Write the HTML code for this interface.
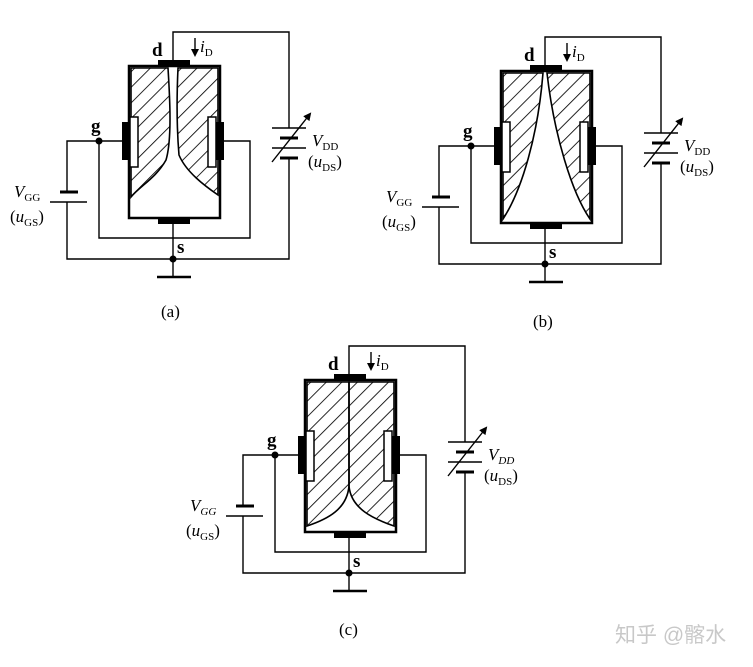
<!DOCTYPE html>
<html><head><meta charset="utf-8"><style>
html,body{margin:0;padding:0;background:#fff;}
svg{display:block;}
text{font-family:"Liberation Serif",serif;fill:#000;}
</style></head><body>
<svg width="753" height="667" viewBox="0 0 753 667" xmlns="http://www.w3.org/2000/svg">
<defs>
<pattern id="h" patternUnits="userSpaceOnUse" width="11" height="11" patternTransform="rotate(45)">
<line x1="0" y1="0" x2="0" y2="11" stroke="#000" stroke-width="1.7"/>
</pattern>
<marker id="ar" markerWidth="8" markerHeight="8" refX="6" refY="4" orient="auto" markerUnits="userSpaceOnUse">
<path d="M0,0 L8,4 L0,8 Z" fill="#000"/>
</marker>
<g id="base">
<rect x="129" y="66" width="91" height="152" fill="none" stroke="#000" stroke-width="2.5"/>
<rect x="158" y="60" width="32" height="7" fill="#000"/>
<rect x="158" y="218" width="32" height="6" fill="#000"/>
<rect x="122" y="122" width="8" height="38" fill="#000"/>
<rect x="130" y="117" width="8" height="50" fill="#fff" stroke="#000" stroke-width="1.5"/>
<rect x="208" y="117" width="8" height="50" fill="#fff" stroke="#000" stroke-width="1.5"/>
<rect x="216" y="122" width="8" height="38" fill="#000"/>
<g fill="none" stroke="#000" stroke-width="1.4">
<path d="M99 141 H122 M99 141 V238 H250 V141 H224"/>
<path d="M99 141 H67 V192 M67 202 V259 H289 V158"/>
<path d="M173 60 V32 H289 V128"/>
<path d="M173 224 V276"/>
<path d="M50 202 H87"/>
<path d="M272 128 H306 M272 148 H306"/>
<path d="M272 162 L310 114" marker-end="url(#ar)"/>
<path d="M195 38 V55" marker-end="url(#ar)"/>
</g>
<path d="M60 192 H78 M280 138 H298 M280 158 H298" stroke="#000" stroke-width="3"/>
<path d="M157 277 H191" stroke="#000" stroke-width="2.5"/>
<circle cx="99" cy="141" r="3.5" fill="#000"/>
<circle cx="173" cy="259" r="3.5" fill="#000"/>
</g>
</defs>

<!-- (a) -->
<g>
<path d="M131 68 H168 C170 100 172 140 166 160 C156 178 140 186 131 197 Z" fill="url(#h)" stroke="#000" stroke-width="1.6"/>
<path d="M178 68 H218 V195 C205 186 186 172 179 155 C176 120 177 90 178 68 Z" fill="url(#h)" stroke="#000" stroke-width="1.6"/>
<use href="#base"/>
<text x="152" y="56" font-size="19" font-weight="600">d</text>
<text x="200" y="52" font-size="17" font-style="italic">i<tspan font-size="11" font-style="normal" dy="4">D</tspan></text>
<text x="91" y="132" font-size="19" font-weight="600">g</text>
<text x="177" y="253" font-size="19" font-weight="600">s</text>
<text x="312" y="146" font-size="17" font-style="italic">V<tspan font-size="11" font-style="normal" dy="4">DD</tspan></text>
<text x="308" y="167" font-size="17">(<tspan font-style="italic">u</tspan><tspan font-size="11" dy="4">DS</tspan><tspan dy="-4">)</tspan></text>
<text x="14" y="197" font-size="17" font-style="italic">V<tspan font-size="11" font-style="normal" dy="4">GG</tspan></text>
<text x="10" y="222" font-size="17">(<tspan font-style="italic">u</tspan><tspan font-size="11" dy="4">GS</tspan><tspan dy="-4">)</tspan></text>
<text x="161" y="317" font-size="17">(a)</text>
</g>

<!-- (b) -->
<g transform="translate(372,5)">
<path d="M131 68 H171 C166 130 150 185 131 214 Z" fill="url(#h)" stroke="#000" stroke-width="1.6"/>
<path d="M175 68 H218 V214 C200 188 182 130 175 68 Z" fill="url(#h)" stroke="#000" stroke-width="1.6"/>
<use href="#base"/>
<text x="152" y="56" font-size="19" font-weight="600">d</text>
<text x="200" y="52" font-size="17" font-style="italic">i<tspan font-size="11" font-style="normal" dy="4">D</tspan></text>
<text x="91" y="132" font-size="19" font-weight="600">g</text>
<text x="177" y="253" font-size="19" font-weight="600">s</text>
<text x="312" y="146" font-size="17" font-style="italic">V<tspan font-size="11" font-style="normal" dy="4">DD</tspan></text>
<text x="308" y="167" font-size="17">(<tspan font-style="italic">u</tspan><tspan font-size="11" dy="4">DS</tspan><tspan dy="-4">)</tspan></text>
<text x="14" y="197" font-size="17" font-style="italic">V<tspan font-size="11" font-style="normal" dy="4">GG</tspan></text>
<text x="10" y="222" font-size="17">(<tspan font-style="italic">u</tspan><tspan font-size="11" dy="4">GS</tspan><tspan dy="-4">)</tspan></text>
<text x="161" y="322" font-size="17">(b)</text>
</g>

<!-- (c) -->
<g transform="translate(176,314)">
<path d="M131 68 H173 V172 C171 195 152 205 131 212 Z" fill="url(#h)" stroke="#000" stroke-width="1.6"/>
<path d="M173 68 H218 V212 C198 205 175 195 173 172 Z" fill="url(#h)" stroke="#000" stroke-width="1.6"/>
<use href="#base"/>
<text x="152" y="56" font-size="19" font-weight="600">d</text>
<text x="200" y="52" font-size="17" font-style="italic">i<tspan font-size="11" font-style="normal" dy="4">D</tspan></text>
<text x="91" y="132" font-size="19" font-weight="600">g</text>
<text x="177" y="253" font-size="19" font-weight="600">s</text>
<text x="312" y="146" font-size="17" font-style="italic">V<tspan font-size="11" dy="4">DD</tspan></text>
<text x="308" y="167" font-size="17">(<tspan font-style="italic">u</tspan><tspan font-size="11" dy="4">DS</tspan><tspan dy="-4">)</tspan></text>
<text x="14" y="197" font-size="17" font-style="italic">V<tspan font-size="11" dy="4">GG</tspan></text>
<text x="10" y="222" font-size="17">(<tspan font-style="italic">u</tspan><tspan font-size="11" dy="4">GS</tspan><tspan dy="-4">)</tspan></text>
<text x="163" y="321" font-size="17">(c)</text>
</g>

<text x="615" y="642" font-size="21" style="font-family:'Liberation Sans','Noto Sans CJK SC',sans-serif;fill:#c8c8c8">知乎 @髂水</text>
</svg>
</body></html>
